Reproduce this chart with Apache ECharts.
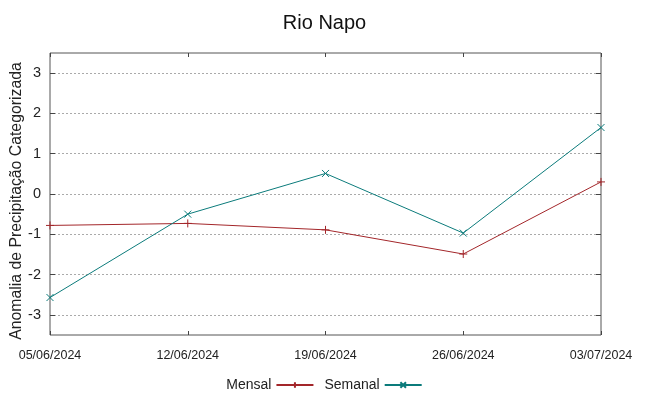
<!DOCTYPE html>
<html>
<head>
<meta charset="utf-8">
<script src="https://cdn.jsdelivr.net/npm/echarts@6/dist/echarts.min.js"></script>
<style>
  html, body { margin: 0; padding: 0; background: #fff; }
  #chart { width: 649px; height: 396px; }
</style>
</head>
<body>
<div id="chart"></div>
<script>
// datas do eixo x
var dates = ['05/06/2024', '12/06/2024', '19/06/2024', '26/06/2024', '03/07/2024'];
// anomalias
var mensal = [-0.78, -0.73, -0.89, -1.49, 0.30];
var semanal = [-2.57, -0.50, 0.51, -0.97, 1.65];
var yTicks = [-3, -2, -1, 0, 1, 2, 3];

var corMensal = '#a3262a';
var corSemanal = '#0b7b7b';
var fonte = 'Liberation Sans, Arial, sans-serif';
var plus = 'path://M0,5L10,5M5,0L5,10';
var cross = 'path://M0,0L10,10M10,0L0,10';

var chart = echarts.init(document.getElementById('chart'));
var option = {
    animation: false,
    title: {
        text: 'Rio Napo',
        left: 'center',
        top: 8,
        textStyle: { fontFamily: fonte, fontSize: 20, fontWeight: 'normal', color: '#111' }
    },
    legend: {
        left: 'center',
        top: 373,
        align: 'right',
        itemWidth: 37,
        itemHeight: 7,
        itemGap: 10,
        textStyle: { fontFamily: fonte, fontSize: 14, color: '#222' },
        data: ['Mensal', 'Semanal']
    },
    grid: {
        left: 50, right: 48, top: 53, bottom: 61,
        outerBoundsMode: 'none',
        show: true,
        borderColor: '#555',
        borderWidth: 1
    },
    xAxis: [{
        type: 'category',
        boundaryGap: false,
        data: dates,
        axisLine: { show: false, onZero: false },
        axisTick: { show: true, inside: true, length: 4, lineStyle: { color: '#444' } },
        axisLabel: { fontFamily: fonte, fontSize: 12.5, color: '#222', margin: 14 },
        splitLine: { show: false }
    }, {
        type: 'category',
        position: 'top',
        boundaryGap: false,
        data: dates,
        axisLine: { show: false, onZero: false },
        axisTick: { show: true, inside: true, length: 4, lineStyle: { color: '#444' } },
        axisLabel: { show: false }
    }],
    yAxis: [{
        type: 'value',
        min: -3.5,
        max: 3.5,
        interval: 1,
        name: 'Anomalia de Precipitação Categorizada',
        nameLocation: 'middle',
        nameGap: 25,
        nameMoveOverlap: false,
        nameTextStyle: { fontFamily: fonte, fontSize: 15.8, color: '#222', padding: [0, 14, 0, 0] },
        axisLine: { show: false },
        axisTick: { show: true, inside: true, length: 5, lineStyle: { color: '#444' }, customValues: yTicks },
        axisLabel: { fontFamily: fonte, fontSize: 14.5, color: '#222', margin: 9, customValues: yTicks },
        splitLine: { show: true, lineStyle: { color: '#aaa', type: [2, 2], width: 1 } }
    }, {
        type: 'value',
        position: 'right',
        min: -3.5,
        max: 3.5,
        interval: 1,
        axisLine: { show: false },
        axisTick: { show: true, inside: true, length: 5, lineStyle: { color: '#444' }, customValues: yTicks },
        axisLabel: { show: false },
        splitLine: { show: false }
    }],
    series: [{
        name: 'Mensal',
        type: 'line',
        data: mensal,
        symbol: plus,
        symbolSize: 8,
        showAllSymbol: true,
        lineStyle: { color: corMensal, width: 1 },
        itemStyle: { color: corMensal, borderColor: corMensal, borderWidth: 1 }
    }, {
        name: 'Semanal',
        type: 'line',
        data: semanal,
        symbol: cross,
        symbolSize: 7,
        showAllSymbol: true,
        lineStyle: { color: corSemanal, width: 1 },
        itemStyle: { color: corSemanal, borderColor: corSemanal, borderWidth: 1 }
    }]
};
chart.setOption(option);
</script>
</body>
</html>
